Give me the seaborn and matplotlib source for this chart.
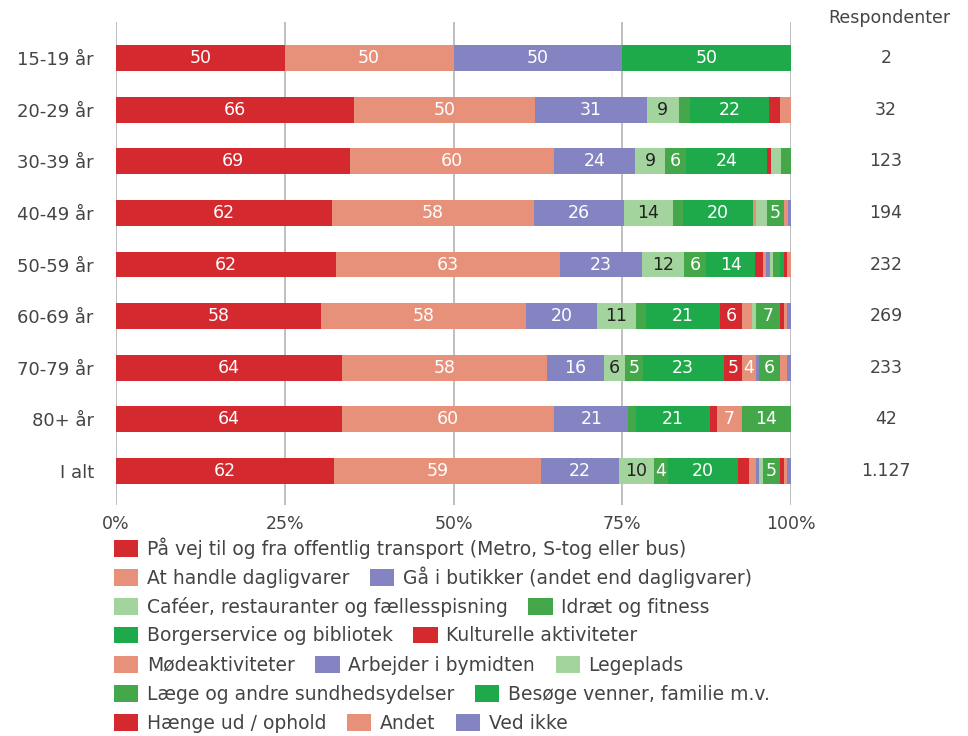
import numpy as np
import pandas as pd
import matplotlib.pyplot as plt
import matplotlib.transforms as mtransforms
from matplotlib.patches import Patch
import seaborn as sns

ages = ["15-19 år", "20-29 år", "30-39 år", "40-49 år", "50-59 år",
        "60-69 år", "70-79 år", "80+ år", "I alt"]
respondents = ["2", "32", "123", "194", "232", "269", "233", "42", "1.127"]

categories = [
    "På vej til og fra offentlig transport (Metro, S-tog eller bus)",
    "At handle dagligvarer",
    "Gå i butikker (andet end dagligvarer)",
    "Caféer, restauranter og fællesspisning",
    "Idræt og fitness",
    "Borgerservice og bibliotek",
    "Kulturelle aktiviteter",
    "Mødeaktiviteter",
    "Arbejder i bymidten",
    "Legeplads",
    "Læge og andre sundhedsydelser",
    "Besøge venner, familie m.v.",
    "Hænge ud / ophold",
    "Andet",
    "Ved ikke",
]

transport = [50, 66, 69, 62, 62, 58, 64, 64, 62]
dagligvarer = [50, 50, 60, 58, 63, 58, 58, 60, 59]
butikker = [50, 31, 24, 26, 23, 20, 16, 21, 22]
cafe = [0, 9, 9, 14, 12, 11, 6, 0, 10]
idraet = [0, 3, 6, 3, 6, 3, 5, 2, 4]
borgerservice = [50, 22, 24, 20, 14, 21, 23, 21, 20]
kulturelle = [0, 3, 1, 0, 2, 6, 5, 2, 3]
moede = [0, 3, 0, 1, 1, 3, 4, 7, 2]
arbejder = [0, 0, 0, 0, 1, 0, 1, 0, 1]
legeplads = [0, 0, 3, 3, 1, 1, 0, 0, 1]
laege = [0, 0, 3, 5, 2, 7, 6, 14, 5]
besoege = [0, 0, 0, 0, 1, 0, 0, 0, 0]
haenge = [0, 0, 0, 0, 1, 1, 0, 0, 1]
andet = [0, 0, 0, 1, 1, 1, 2, 0, 1]
ved_ikke = [0, 0, 0, 1, 0, 1, 1, 0, 1]

series = [transport, dagligvarer, butikker, cafe, idraet, borgerservice,
          kulturelle, moede, arbejder, legeplads, laege, besoege,
          haenge, andet, ved_ikke]

RED, SALMON, PURPLE = "#d42a2f", "#e8917a", "#8484c2"
LGREEN, MGREEN, BGREEN = "#a4d49e", "#44a84a", "#1eaa4b"
colors = [RED, SALMON, PURPLE, LGREEN, MGREEN, BGREEN,
          RED, SALMON, PURPLE, LGREEN, MGREEN, BGREEN,
          RED, SALMON, PURPLE]
dark_text = {LGREEN}

sns.set_theme(style="white")
plt.rcParams['font.family'] = ['DejaVu Sans']
TXT = "#444444"

vals = np.array(series, dtype=float)          # (cat, age)
totals = vals.sum(axis=0)
pct = vals / totals * 100
cum = np.cumsum(pct, axis=0)

fig = plt.figure(figsize=(9.68, 7.36), dpi=100)
ax = fig.add_axes([116 / 968, 1 - 505 / 736, 675 / 968, 483 / 736])

# draw cumulative bars from back to front so each segment shows
for i in range(len(categories) - 1, -1, -1):
    df = pd.DataFrame({"age": ages, "x": cum[i]})
    sns.barplot(data=df, x="x", y="age", orient="h", color=colors[i],
                saturation=1, width=0.5, ax=ax, zorder=2, linewidth=0)

for i in range(len(categories)):
    for j in range(len(ages)):
        v = series[i][j]
        if v >= 4:
            xc = cum[i][j] - pct[i][j] / 2
            ax.text(xc, j, str(v), ha="center", va="center", fontsize=12.5,
                    color="#222222" if colors[i] in dark_text else "white",
                    zorder=3)

ax.set_xlim(0, 100)
ax.set_ylim(len(ages) - 1 + 0.66, -0.7)
ax.set_xticks([0, 25, 50, 75, 100])
ax.set_xticklabels(["0%", "25%", "50%", "75%", "100%"])
ax.grid(axis="x", color="#b4b4b4", lw=1.2, zorder=0)
ax.grid(axis="y", visible=False)
ax.set_axisbelow(True)
for s in ax.spines.values():
    s.set_visible(False)
ax.tick_params(axis="x", length=0, pad=7, labelsize=12.5, labelcolor=TXT)
ax.tick_params(axis="y", length=0, pad=16, labelsize=13, labelcolor=TXT)
ax.set_xlabel("")
ax.set_ylabel("")

trans = mtransforms.blended_transform_factory(fig.transFigure, ax.transData)
for j, r in enumerate(respondents):
    ax.text(886 / 968, j, r, transform=trans, ha="center", va="center",
            fontsize=12.5, color=TXT)
fig.text(889 / 968, 1 - 18 / 736, "Respondenter", ha="center", va="center",
         fontsize=12.5, color=TXT)

# legend, laid out in rows like the original
legend_rows = [[0], [1, 2], [3, 4], [5, 6], [7, 8, 9], [10, 11], [12, 13, 14]]
for r, idx in enumerate(legend_rows):
    handles = [Patch(facecolor=colors[k], edgecolor="none") for k in idx]
    labels = [categories[k] for k in idx]
    y = 1 - (548 + r * 29.3) / 736
    fig.legend(handles, labels, loc="center left", bbox_to_anchor=(114 / 968, y),
               ncol=len(idx), frameon=False, fontsize=13.5, handlelength=1.3,
               handleheight=1.0, handletextpad=0.45, columnspacing=1.1,
               borderpad=0, borderaxespad=0, labelcolor=TXT)

fig.savefig("out.png", dpi=100)
